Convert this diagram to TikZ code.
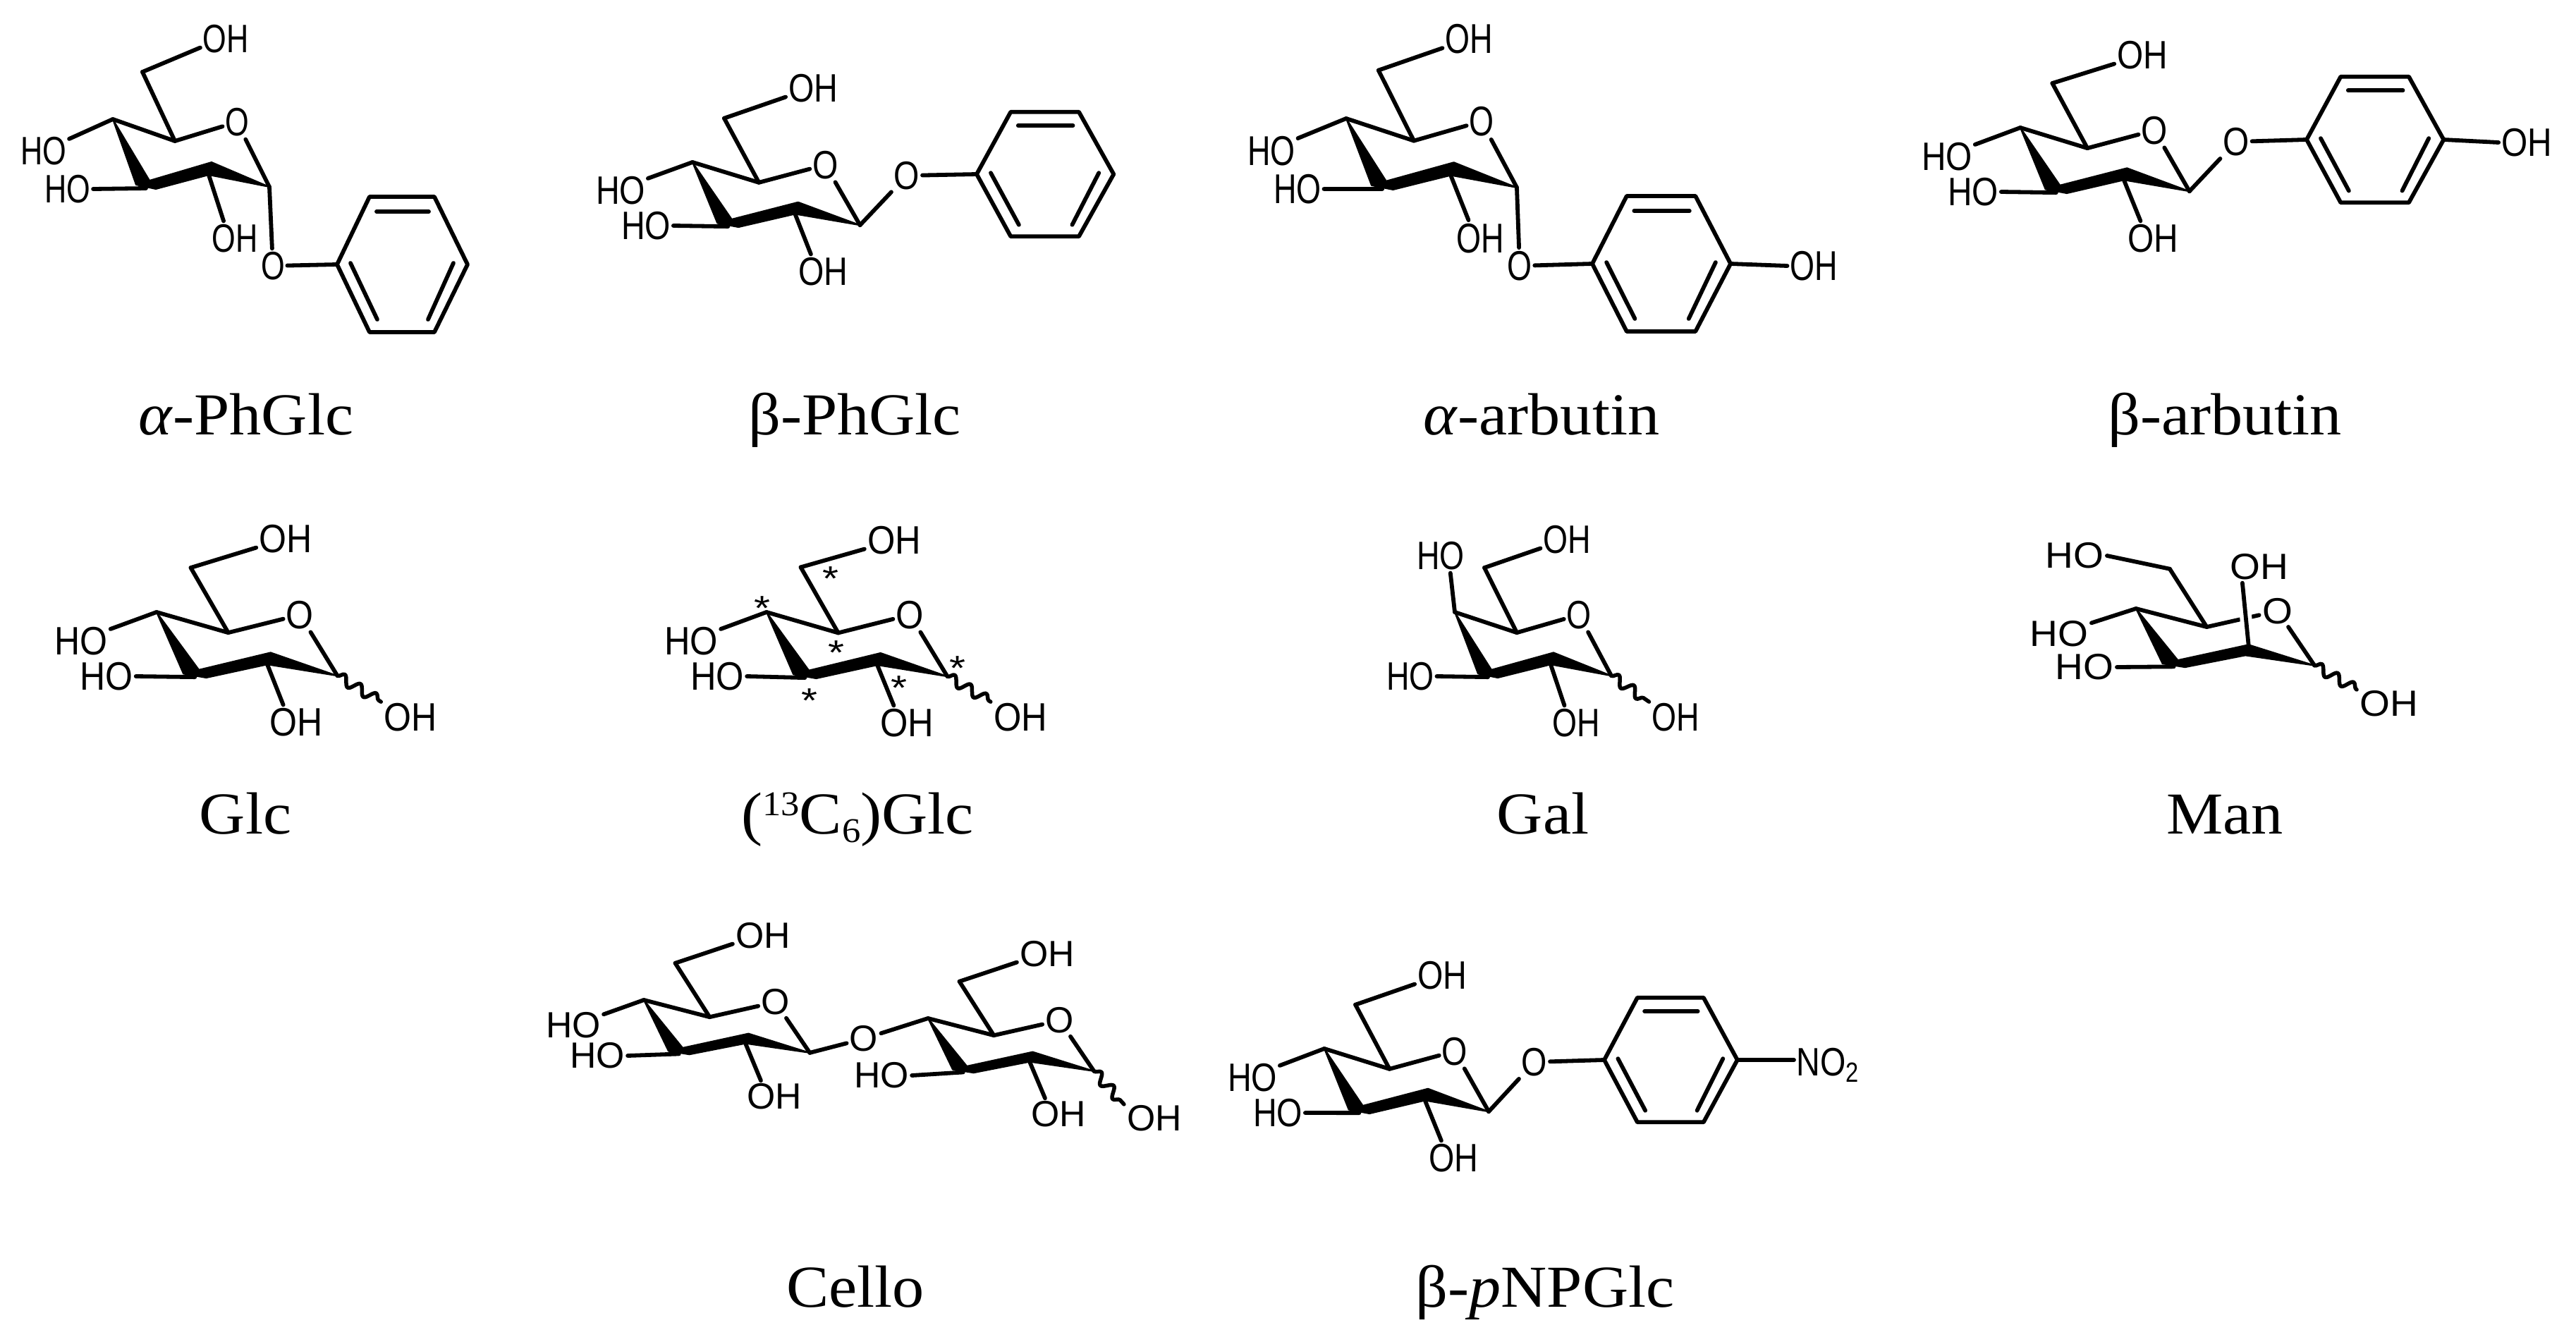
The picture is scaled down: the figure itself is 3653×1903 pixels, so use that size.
\documentclass[tikz,border=0pt]{standalone}
\usepackage{fontspec}
\setmainfont{Liberation Serif}
\setsansfont{Liberation Sans}
\usetikzlibrary{decorations.pathmorphing}

\newcommand{\isonum}[1]{{\fontsize{14pt}{14pt}\selectfont #1}}

\tikzset{
  pyran/.pic={
    \coordinate (-c4) at (0,0);
    \coordinate (-c5) at (88,31);
    \coordinate (-c6) at (42,-67);
    \coordinate (-c1) at (222,96);
    \coordinate (-c2) at (136,79);
    \coordinate (-c2t) at (140,61);
    \coordinate (-c3) at (47,98);
    \coordinate (-c3t) at (52,87);
    \coordinate (-c3b) at (61,99);
    \coordinate (-c3l) at (33,93);
    \node[atom] (-o) at (176,4) {O};
    \draw[bond] (-c4) -- (-c5) -- (-o) -- (-c1);
    \draw[bond] (-c5) -- (-c6);
    \filldraw[line width=.2mm, line join=round] (-c1) -- (-c2t) -- (-c3t) -- (-c3b) -- (-c2) -- cycle;
    \filldraw[line width=.2mm, line join=round] (-c4) -- (-c3t) -- (-c3b) -- (-c3l) -- cycle;
  },
  benzene/.pic={
    \coordinate (-a) at (0,0);
    \coordinate (-b) at (46,-96);
    \coordinate (-c) at (138,-96);
    \coordinate (-d) at (185,0);
    \coordinate (-e) at (138,96);
    \coordinate (-f) at (46,96);
    \draw[bond] (-a) -- (-b) -- (-c) -- (-d) -- (-e) -- (-f) -- cycle;
    \draw[bond] (56,-75) -- (130,-75);
    \draw[bond] (19,-2) -- (57,78);
    \draw[bond] (165,-2) -- (129,78);
  }
}

\begin{document}
\begin{tikzpicture}[
  x=.1mm, y=-.1mm,
  atom/.style={font=\fontsize{16pt}{16pt}\selectfont\sffamily, inner sep=.4mm},
  bond/.style={line width=.58mm, line cap=round, line join=round},
  wavy/.style={bond, line width=.55mm, decorate, decoration={snake, amplitude=.7mm, segment length=2.6mm}},
  gap/.style={white, line width=1.7mm},
  star/.style={font=\fontsize{14pt}{14pt}\selectfont\sffamily, inner sep=0pt, anchor=north, xscale=1.2},
  lab/.style={font=\fontsize{24pt}{24pt}\selectfont, anchor=base, inner sep=0pt, xscale=1.07}
]
\useasboundingbox (0,0) rectangle (3653,1903);

% --- Top row ---
\begin{scope}[atom/.append style={xscale=.77}]
\pic (pa) at (160,169) {pyran};
\pic (ra) at (478,375) {benzene};
\node[atom] (pa6) at (320,55) {OH};
\node[atom] (pa4) at (62,214) {HO};
\node[atom] (pa3) at (96,268) {HO};
\node[atom] (pa2) at (333,338) {OH};
\node[atom] (pa1) at (387,377) {O};
\draw[bond] (pa-c6) -- (pa6.195);
\draw[bond] (pa-c4) -- (pa4.20);
\draw[bond] (pa-c3) -- (pa3.east);
\draw[bond] (pa-c2) -- (pa2.130);
\draw[bond] (pa-c1) -- (pa1) -- (ra-a);
\end{scope}
\node[lab] (la) at (349,616) {\textit{α}-PhGlc};

\begin{scope}[atom/.append style={xscale=.83}]
\pic[xscale=1.07, yscale=.93] (pb) at (982,230) {pyran};
\pic[xscale=1.05, yscale=.92] (rb) at (1385,247) {benzene};
\node[atom] (pb6) at (1153,125) {OH};
\node[atom] (pb4) at (880,270) {HO};
\node[atom] (pb3) at (916,320) {HO};
\node[atom] (pb2) at (1167,385) {OH};
\node[atom] (pb1) at (1286,249) {O};
\draw[bond] (pb-c6) -- (pb6.195);
\draw[bond] (pb-c4) -- (pb4.20);
\draw[bond] (pb-c3) -- (pb3.east);
\draw[bond] (pb-c2) -- (pb2.130);
\draw[bond] (pb-c1) -- (pb1) -- (rb-a);
\end{scope}
\node[lab] (lb) at (1212,616) {β-PhGlc};

\begin{scope}[atom/.append style={xscale=.8, yscale=1.05}]
\pic[xscale=1.09, yscale=1.02] (pc) at (1909,168) {pyran};
\pic[xscale=1.06] (rc) at (2258,374) {benzene};
\node[atom] (pc6) at (2083,55) {OH};
\node[atom] (pc4) at (1803,214) {HO};
\node[atom] (pc3) at (1840,268) {HO};
\node[atom] (pc2) at (2099,338) {OH};
\node[atom] (pc1) at (2155,377) {O};
\node[atom] (pc7) at (2572,377) {OH};
\draw[bond] (pc-c6) -- (pc6.195);
\draw[bond] (pc-c4) -- (pc4.20);
\draw[bond] (pc-c3) -- (pc3.east);
\draw[bond] (pc-c2) -- (pc2.130);
\draw[bond] (pc-c1) -- (pc1) -- (rc-a);
\draw[bond] (rc-d) -- (pc7.west);
\end{scope}
\node[lab] (lc) at (2186,616) {\textit{α}-arbutin};

\begin{scope}[atom/.append style={xscale=.85}]
\pic[xscale=1.08, yscale=.94] (pd) at (2865,181) {pyran};
\pic[xscale=1.05, yscale=.93] (rd) at (3271,198) {benzene};
\node[atom] (pd6) at (3038,78) {OH};
\node[atom] (pd4) at (2761,222) {HO};
\node[atom] (pd3) at (2798,272) {HO};
\node[atom] (pd2) at (3053,338) {OH};
\node[atom] (pd1) at (3171,201) {O};
\node[atom] (pd7) at (3583,202) {OH};
\draw[bond] (pd-c6) -- (pd6.195);
\draw[bond] (pd-c4) -- (pd4.20);
\draw[bond] (pd-c3) -- (pd3.east);
\draw[bond] (pd-c2) -- (pd2.130);
\draw[bond] (pd-c1) -- (pd1) -- (rd-a);
\draw[bond] (rd-d) -- (pd7.west);
\end{scope}
\node[lab] (ld) at (3155,616) {β-arbutin};

% --- Middle row ---
\begin{scope}[atom/.append style={xscale=.89}]
\pic[xscale=1.155, yscale=.94] (pe) at (222,868) {pyran};
\node[atom] (pe6) at (405,764) {OH};
\node[atom] (pe4) at (115,909) {HO};
\node[atom] (pe3) at (151,959) {HO};
\node[atom] (pe2) at (420,1024) {OH};
\node[atom] (pe1) at (582,1017) {OH};
\draw[bond] (pe-c6) -- (pe6.195);
\draw[bond] (pe-c4) -- (pe4.20);
\draw[bond] (pe-c3) -- (pe3.east);
\draw[bond] (pe-c2) -- (pe2.130);
\draw[wavy] (pe-c1) -- (pe1.155);
\end{scope}
\node[lab] (le) at (348,1182) {Glc};

\begin{scope}[atom/.append style={xscale=.9}]
\pic[xscale=1.155, yscale=.95] (pf) at (1087,868) {pyran};
\node[atom] (pf6) at (1268,766) {OH};
\node[atom] (pf4) at (980,909) {HO};
\node[atom] (pf3) at (1017,959) {HO};
\node[atom] (pf2) at (1286,1025) {OH};
\node[atom] (pf1) at (1447,1017) {OH};
\draw[bond] (pf-c6) -- (pf6.195);
\draw[bond] (pf-c4) -- (pf4.20);
\draw[bond] (pf-c3) -- (pf3.east);
\draw[bond] (pf-c2) -- (pf2.130);
\draw[wavy] (pf-c1) -- (pf1.155);
\foreach \px/\py [count=\i] in {1178/803, 1081/845, 1186/908, 1148/976, 1275/958, 1358/930}
  \node[star] (s\i) at (\px,\py) {*};
\end{scope}
\node[lab] (lf) at (1216,1182) {(\raisebox{.3em}{\isonum{13}}C\raisebox{-.15em}{\isonum{6}})Glc};

\begin{scope}[atom/.append style={xscale=.8}]
\pic[yscale=.94] (pg) at (2063,868) {pyran};
\node[atom] (pg6) at (2222,765) {OH};
\node[atom] (pg4) at (2043,788) {HO};
\node[atom] (pg3) at (2000,959) {HO};
\node[atom] (pg2) at (2235,1025) {OH};
\node[atom] (pg1) at (2376,1017) {OH};
\draw[bond] (pg-c6) -- (pg6.195);
\draw[bond] (pg-c4) -- (pg4.305);
\draw[bond] (pg-c3) -- (pg3.east);
\draw[bond] (pg-c2) -- (pg2.130);
\draw[wavy] (pg-c1) -- (pg1.155);
\end{scope}
\node[lab] (lg) at (2188,1182) {Gal};

\begin{scope}[atom/.append style={xscale=.98, yscale=.92}]
\pic[xscale=1.14, yscale=.84] (ph) at (3029,863) {pyran};
\node[atom] (ph6) at (2942,788) {HO};
\node[atom] (ph4) at (2920,899) {HO};
\node[atom] (ph3) at (2956,946) {HO};
\node[atom] (ph2) at (3204,804) {OH};
\node[atom] (ph1) at (3388,998) {OH};
\draw[bond] (ph-c6) -- (ph6.east);
\draw[bond] (ph-c4) -- (ph4.20);
\draw[bond] (ph-c3) -- (ph3.east);
\draw[gap, shorten <=3mm, shorten >=3mm] (ph-c2t) -- (ph2.225);
\draw[bond] (ph-c2t) -- (ph2.225);
\draw[wavy] (ph-c1) -- (ph1.155);
\end{scope}
\node[lab] (lh) at (3155,1182) {Man};

% --- Bottom row ---
\begin{scope}[atom/.append style={xscale=.92, yscale=.92}]
\pic[xscale=1.06, yscale=.78] (pi) at (913,1418) {pyran};
\pic[xscale=1.06, yscale=.78] (pj) at (1316,1444) {pyran};
\node[atom] (pi6) at (1082,1327) {OH};
\node[atom] (pi4) at (813,1454) {HO};
\node[atom] (pi3) at (847,1497) {HO};
\node[atom] (pi2) at (1098,1555) {OH};
\node[atom] (pi1) at (1225,1473) {O};
\node[atom] (pj6) at (1485,1353) {OH};
\node[atom] (pj3) at (1250,1525) {HO};
\node[atom] (pj2) at (1501,1580) {OH};
\node[atom] (pj1) at (1637,1586) {OH};
\draw[bond] (pi-c6) -- (pi6.195);
\draw[bond] (pi-c4) -- (pi4.20);
\draw[bond] (pi-c3) -- (pi3.east);
\draw[bond] (pi-c2) -- (pi2.130);
\draw[bond] (pi-c1) -- (pi1) -- (pj-c4);
\draw[bond] (pj-c6) -- (pj6.195);
\draw[bond] (pj-c3) -- (pj3.east);
\draw[bond] (pj-c2) -- (pj2.130);
\draw[wavy] (pj-c1) -- (pj1.155);
\end{scope}
\node[lab] (li) at (1213,1853) {Cello};

\begin{scope}[atom/.append style={xscale=.83}]
\pic[xscale=1.05, yscale=.93] (pk) at (1878,1487) {pyran};
\pic[xscale=1.02, yscale=.92] (rk) at (2275,1503) {benzene};
\node[atom] (pk6) at (2045,1383) {OH};
\node[atom] (pk4) at (1776,1528) {HO};
\node[atom] (pk3) at (1812,1578) {HO};
\node[atom] (pk2) at (2061,1642) {OH};
\node[atom] (pk1) at (2176,1506) {O};
\node[atom, anchor=base west] (pk7) at (2544,1525) {NO\textsubscript{2}};
\draw[bond] (pk-c6) -- (pk6.195);
\draw[bond] (pk-c4) -- (pk4.20);
\draw[bond] (pk-c3) -- (pk3.east);
\draw[bond] (pk-c2) -- (pk2.130);
\draw[bond] (pk-c1) -- (pk1) -- (rk-a);
\draw[bond] (rk-d) -- (pk7.west |- rk-d);
\end{scope}
\node[lab] (lk) at (2191,1853) {β-\textit{p}NPGlc};

\end{tikzpicture}
\end{document}
